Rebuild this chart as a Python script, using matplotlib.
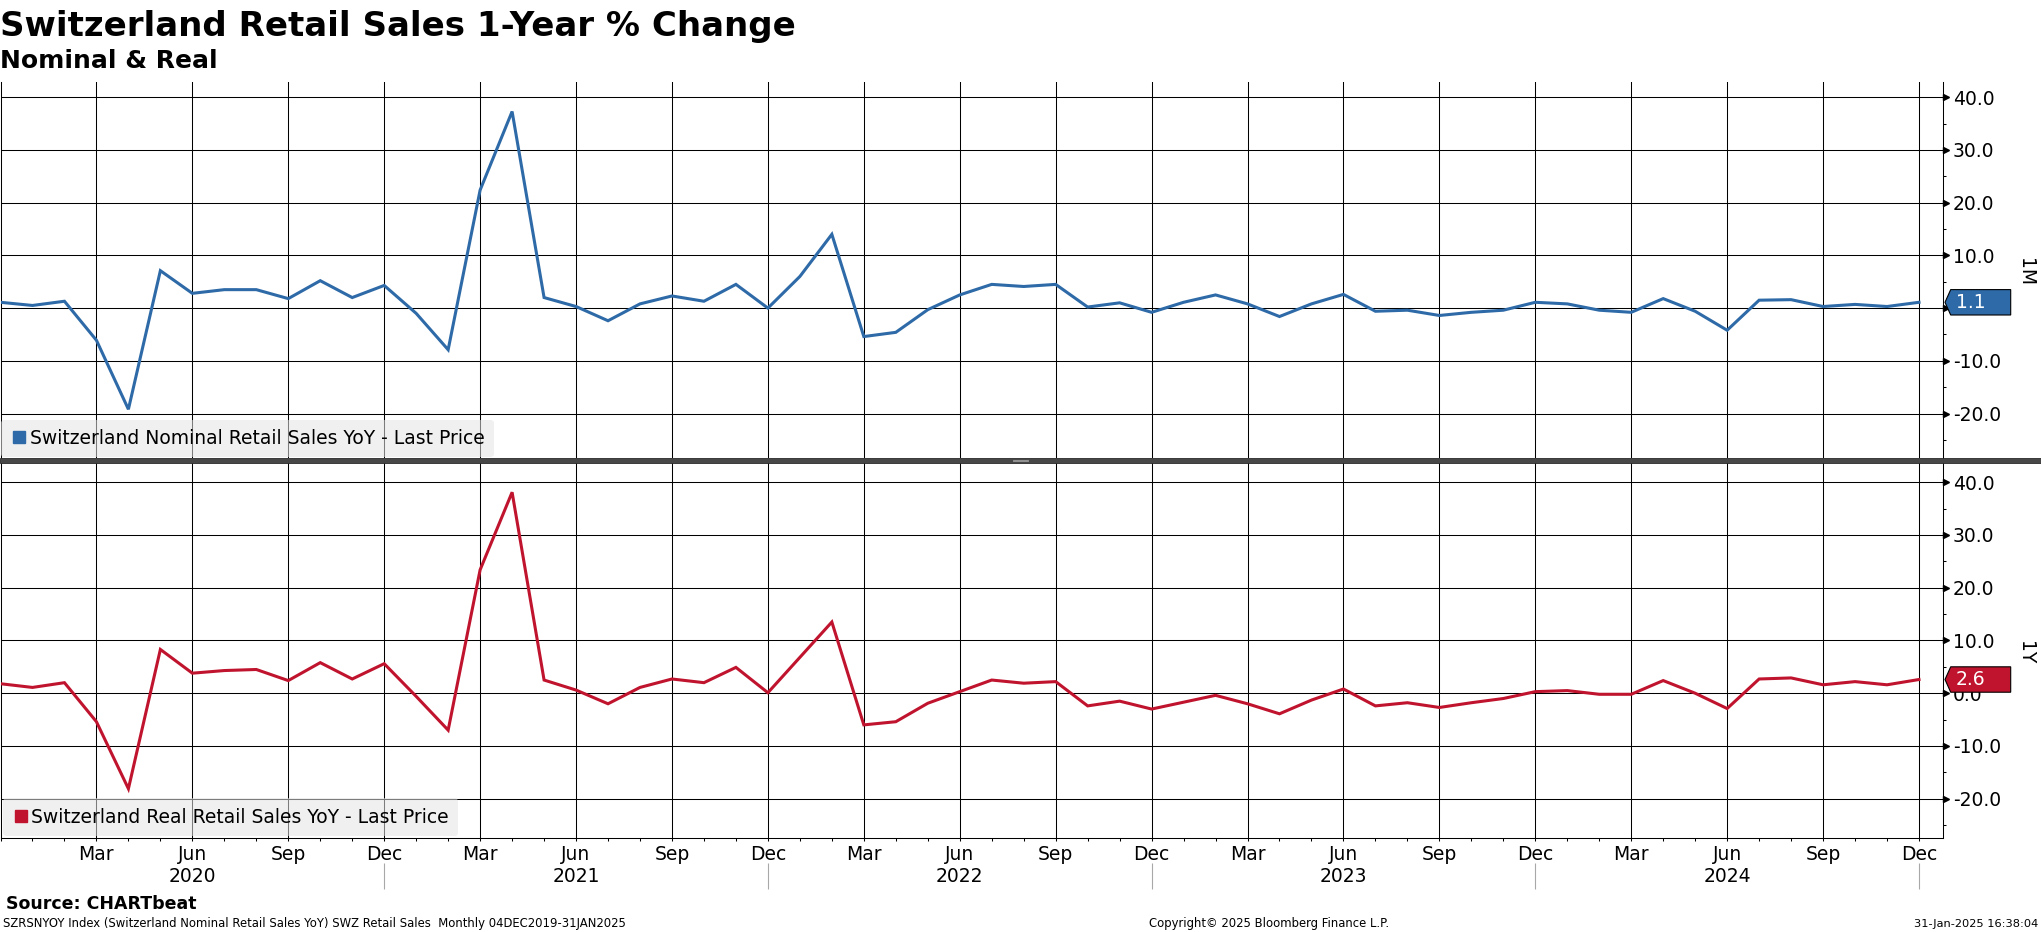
import numpy as np
import matplotlib
matplotlib.use("Agg")
import matplotlib.pyplot as plt
import matplotlib.transforms as mtransforms
from matplotlib.patches import Polygon, Rectangle
from matplotlib.lines import Line2D

plt.rcParams['font.family'] = ['DejaVu Sans']
plt.rcParams['axes.unicode_minus'] = False

# ---------------- data ----------------
title = "Switzerland Retail Sales 1-Year % Change"
subtitle = "Nominal & Real"
nominal_label = "Switzerland Nominal Retail Sales YoY - Last Price"
real_label = "Switzerland Real Retail Sales YoY - Last Price"

# monthly observations, Dec 2019 ... Dec 2024 (index 0 = Dec 2019)
nominal = [1.1, 0.5, 1.3, -6.1, -19.2, 7.1, 2.8, 3.5, 3.5, 1.8,
           5.2, 2.0, 4.3, -1.0, -7.9, 22.4, 37.3, 2.0, 0.3, -2.4,
           0.8, 2.3, 1.3, 4.5, 0.0, 6.0, 14.0, -5.4, -4.6, -0.3,
           2.5, 4.5, 4.1, 4.5, 0.2, 1.0, -0.8, 1.1, 2.5, 0.8,
           -1.6, 0.8, 2.6, -0.6, -0.4, -1.4, -0.8, -0.4, 1.1, 0.8,
           -0.4, -0.8, 1.8, -0.6, -4.2, 1.5, 1.6, 0.3, 0.7, 0.3, 1.1]
real = [1.8, 1.1, 2.0, -5.4, -18.1, 8.3, 3.8, 4.3, 4.5, 2.4,
        5.8, 2.7, 5.6, -0.6, -7.0, 23.4, 38.1, 2.5, 0.6, -2.0,
        1.1, 2.7, 2.0, 4.9, 0.1, 6.8, 13.5, -6.0, -5.4, -1.9,
        0.3, 2.5, 1.9, 2.2, -2.4, -1.5, -3.0, -1.7, -0.4, -2.0,
        -3.9, -1.3, 0.8, -2.4, -1.8, -2.7, -1.8, -1.0, 0.3, 0.5,
        -0.2, -0.2, 2.4, 0.0, -2.9, 2.7, 2.9, 1.6, 2.2, 1.6, 2.6]
months = np.arange(len(nominal))

month_tick_idx = list(range(3, 61, 3))
month_tick_labels = ["Mar", "Jun", "Sep", "Dec"] * 5
year_idx = [6, 18, 30, 42, 54]
year_labels = ["2020", "2021", "2022", "2023", "2024"]
year_sep_idx = [12, 24, 36, 48, 60]

y_major = [-20, -10, 0, 10, 20, 30, 40]
y_minor = [-25, -15, -5, 5, 15, 25, 35]

panel_tags = ["1M", "1Y"]
source_text = "Source: CHARTbeat"
footer_left = "SZRSNYOY Index (Switzerland Nominal Retail Sales YoY) SWZ Retail Sales  Monthly 04DEC2019-31JAN2025"
footer_mid = "Copyright\u00a9 2025 Bloomberg Finance L.P."
footer_right = "31-Jan-2025 16:38:04"

BLUE = "#2e6aa7"
RED = "#c0142e"

# ---------------- layout ----------------
W, H = 2041, 932
fig = plt.figure(figsize=(W / 100, H / 100), dpi=100)
fig.patch.set_facecolor("white")


def fx(px):
    return px / W


def fy(py):
    return 1 - py / H


ax1 = fig.add_axes([fx(0.5), fy(458.3), fx(1942.8), (458.3 - 82) / H])
ax2 = fig.add_axes([fx(0.5), fy(838.3), fx(1942.8), (838.3 - 462.7) / H])

FS = 13.5
GRID_LW = 0.75

for ax, series, color, ylim, leg_label, bpad in [
        (ax1, nominal, BLUE, (-28.5, 42.9), nominal_label, 0.05),
        (ax2, real, RED, (-27.5, 43.7), real_label, 0.12)]:
    ax.set_facecolor("white")
    ax.plot(months, series, color=color, lw=2.2, solid_joinstyle="miter", zorder=3)
    ax.set_xlim(0, 60.76)
    ax.set_ylim(*ylim)
    ax.set_xticks(month_tick_idx)
    ax.set_xticks(months, minor=True)
    ax.set_yticks(y_major)
    ax.set_yticks(y_minor, minor=True)
    ax.yaxis.tick_right()
    ax.grid(True, which="major", color="black", lw=GRID_LW)
    ax.set_axisbelow(True)
    ax.tick_params(axis="y", which="major", length=0, pad=7, labelsize=FS,
                   colors="black")
    ax.tick_params(axis="y", which="minor", length=2.2, width=GRID_LW,
                   direction="out", color="black")
    ax.spines["top"].set_visible(False)
    for s in ["left", "right", "bottom"]:
        ax.spines[s].set_color("black")
        ax.spines[s].set_linewidth(GRID_LW)

    # arrow-shaped major ticks on the right axis
    tri_trans = ax.get_yaxis_transform() + mtransforms.ScaledTranslation(
        0.031, 0, fig.dpi_scale_trans)
    ax.plot(np.ones(len(y_major)), y_major, linestyle="none", marker=">",
            markersize=4.5, color="black", transform=tri_trans, clip_on=False,
            zorder=4)

    # legend
    handle = Line2D([], [], linestyle="none", marker="s", markersize=8.5,
                    color=color)
    leg = ax.legend([handle], [leg_label], loc="lower left",
                    bbox_to_anchor=(0, 0), fontsize=FS, frameon=True,
                    fancybox=True, borderpad=0.5, handlelength=0.9,
                    handletextpad=0.12, borderaxespad=bpad)
    fr = leg.get_frame()
    fr.set_facecolor("#e4e4e4")
    fr.set_edgecolor("none")
    fr.set_alpha(0.55)
    leg.set_zorder(5)

    # last value tag
    last = series[-1]
    tag_trans = fig.dpi_scale_trans + mtransforms.ScaledTranslation(
        1.0, last, ax.get_yaxis_transform())
    verts = [(0.017, 0), (0.074, 0.127), (0.674, 0.127), (0.674, -0.127),
             (0.074, -0.127)]
    ax.add_patch(Polygon(verts, closed=True, facecolor=color, edgecolor="black",
                         lw=0.8, transform=tag_trans, clip_on=False, zorder=8))
    ax.text(0.125, 0, f"{last:.1f}", color="white", fontsize=FS, ha="left",
            va="center", transform=tag_trans, clip_on=False, zorder=9)

# y tick labels; in the top panel the 0.0 label sits fully under the value tag
ax1.set_yticklabels(["" if v == 0 else f"{v:.1f}" for v in y_major])
ax2.set_yticklabels([f"{v:.1f}" for v in y_major])

# top panel: no x tick marks / labels
ax1.tick_params(axis="x", which="both", bottom=False, labelbottom=False)
ax1.spines["bottom"].set_visible(False)

# bottom panel x axis
ax2.set_xticklabels(month_tick_labels)
ax2.tick_params(axis="x", which="major", length=2.4, width=GRID_LW,
                direction="out", pad=2.5, labelsize=FS, colors="black")
ax2.tick_params(axis="x", which="minor", length=1.8, width=GRID_LW,
                direction="out", color="black")

ax2_h = ax2.bbox.height
xtrans = ax2.get_xaxis_transform()


def ax2_frac(py):
    return -(py - 838.3) / ax2_h


for xi, lab in zip(year_idx, year_labels):
    ax2.text(xi, ax2_frac(867.5), lab, transform=xtrans, ha="center", va="top",
             fontsize=FS, clip_on=False)
ax2.vlines(year_sep_idx, ax2_frac(889), ax2_frac(863), transform=xtrans,
           colors="#a8a8a8", lw=0.8, clip_on=False)

# panel separator
fig.add_artist(Rectangle((0, fy(462.7)), 1, (462.7 - 458.3) / H,
                         transform=fig.transFigure, facecolor="#474747",
                         edgecolor="#2a2a2a", lw=0.6, zorder=10))
for yy in (459.9, 461.3):
    fig.add_artist(Line2D([fx(1013), fx(1028)], [fy(yy), fy(yy)],
                          transform=fig.transFigure, color="#a0a0a0", lw=0.6,
                          zorder=11))

# panel period tags
fig.text(fx(2026), fy(272), panel_tags[0], rotation=270, ha="center",
         va="center", fontsize=FS)
fig.text(fx(2026), fy(652.5), panel_tags[1], rotation=270, ha="center",
         va="center", fontsize=FS)

# titles
fig.text(fx(0), fy(36), title, fontsize=24.5, fontweight="bold", ha="left",
         va="baseline")
fig.text(fx(0), fy(68), subtitle, fontsize=18, fontweight="bold", ha="left",
         va="baseline")

# footer
fig.text(fx(6), fy(909), source_text, fontsize=12.5, fontweight="bold",
         ha="left", va="baseline")
fig.text(fx(3), fy(927), footer_left, fontsize=8.4, ha="left", va="baseline")
fig.text(fx(1149), fy(927), footer_mid, fontsize=8.4, ha="left", va="baseline")
fig.text(fx(2038), fy(927), footer_right, fontsize=8.2, ha="right",
         va="baseline")

fig.savefig("out.png", dpi=100, facecolor="white")
